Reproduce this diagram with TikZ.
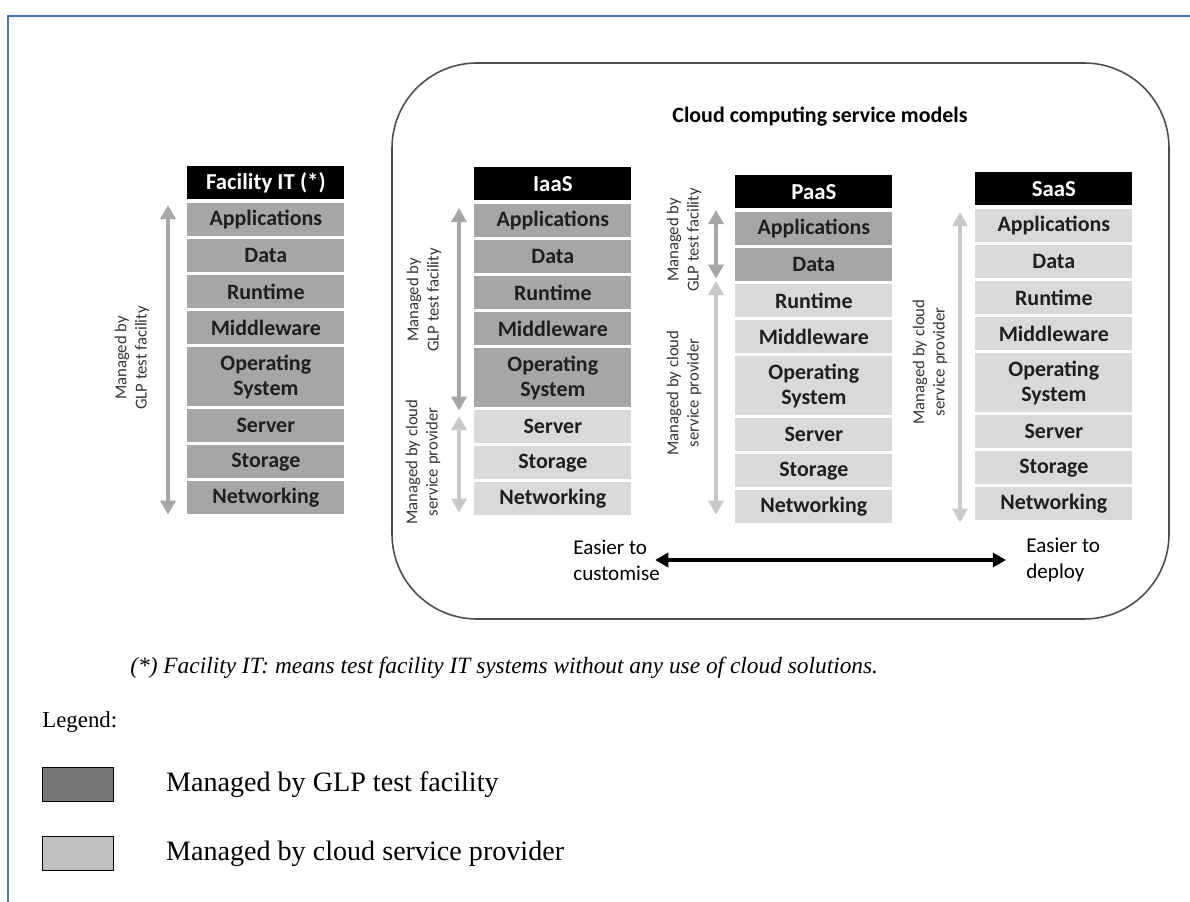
\documentclass[tikz,border=0pt]{standalone}
\usepackage{fontspec}
\setmainfont{Liberation Serif}
\newfontfamily\calibri{Carlito}
\usetikzlibrary{arrows.meta,positioning}

\definecolor{glpgray}{HTML}{A6A6A6}
\definecolor{cspgray}{HTML}{D9D9D9}
\definecolor{keydark}{HTML}{767676}
\definecolor{keylight}{HTML}{BFBFBF}
\definecolor{frameblue}{HTML}{4472C4}

\tikzset{
  layer/.style={anchor=north west, minimum width=3.14cm, minimum height=0.66cm, inner sep=0pt,
    align=center, text=black!88, font=\calibri\bfseries\fontsize{12.5}{14}\selectfont},
  stackhead/.style={layer, fill=black, text=white, font=\calibri\bfseries\fontsize{13}{14}\selectfont},
  sidelabel/.style={rotate=90, align=center, text=black!80, font=\calibri\fontsize{9.5}{11.5}\selectfont},
  glparrow/.style={draw=glpgray, line width=2.8pt, {Triangle[width=8.5pt,length=8pt]}-{Triangle[width=8.5pt,length=8pt]}},
  csparrow/.style={glparrow, draw=cspgray!92!black},
  easytext/.style={anchor=west, align=left, inner sep=0pt, font=\calibri\fontsize{12}{14.7}\selectfont},
  keybox/.style={anchor=north west, draw=black, line width=0.7pt, minimum width=1.42cm, minimum height=0.68cm},
  keytext/.style={inner sep=0pt, font=\fontsize{16}{18}\selectfont},
}

% prefix, left x, top y, number of GLP layers, header
\newcommand\layerstack[5]{%
  \node[stackhead] (#1-head) at (#2,#3) {#5};
  \foreach \nm/\lbl/\dy/\lh [count=\i] in {app/Applications/37/33, data/Data/73/33, run/Runtime/109/33,
      mid/Middleware/145/33, os/{Operating\\System}/181/59, srv/Server/243/33, sto/Storage/279/33, net/Networking/315/33}{
    \ifnum\i>#4 \def\layercol{cspgray}\else\def\layercol{glpgray}\fi
    \node[layer, fill=\layercol, minimum height=\lh*0.02cm] (#1-\nm) at (#2,#3+\dy) {\lbl};
  }%
}

\begin{document}
\begin{tikzpicture}[x=0.02cm,y=-0.02cm]
  \useasboundingbox (0,0) rectangle (1190,902);
  \draw[frameblue, line width=1.2pt] (8,902) -- (8,16) -- (1190,16);

  % cloud models frame
  \draw[black!70, line width=0.9pt, rounded corners=1.7cm] (392,63) rectangle (1169,619);
  \node[font=\calibri\bfseries\fontsize{12.5}{14}\selectfont] (cloudtitle) at (820,117) {Cloud computing service models};

  % stacks
  \layerstack{fac}{187}{166}{8}{Facility IT (*)}
  \layerstack{iaas}{474}{167}{5}{IaaS}
  \layerstack{paas}{735}{175}{2}{PaaS}
  \layerstack{saas}{975}{172}{0}{SaaS}

  % who manages what
  \draw[glparrow] ([xshift=-0.38cm,yshift=-0.04cm]fac-app.north west) -- ([xshift=-0.38cm]fac-net.south west);
  \node[sidelabel] (fac-glp) at (132,358) {Managed by\\GLP test facility};

  \draw[glparrow] ([xshift=-0.3cm,yshift=-0.08cm]iaas-app.north west) -- ([xshift=-0.3cm,yshift=-0.06cm]iaas-os.south west);
  \draw[csparrow] ([xshift=-0.3cm,yshift=-0.12cm]iaas-srv.north west) -- ([xshift=-0.3cm,yshift=0.06cm]iaas-net.south west);
  \node[sidelabel] (iaas-glp) at (424,300) {Managed by\\GLP test facility};
  \node[sidelabel] (iaas-csp) at (423,462) {Managed by cloud\\service provider};

  \draw[glparrow] ([xshift=-0.38cm,yshift=0.04cm]paas-app.north west) -- ([xshift=-0.38cm,yshift=0.06cm]paas-data.south west);
  \draw[csparrow] ([xshift=-0.38cm,yshift=0.06cm]paas-run.north west) -- ([xshift=-0.38cm,yshift=0.18cm]paas-net.south west);
  \node[sidelabel] (paas-glp) at (684,240) {Managed by\\GLP test facility};
  \node[sidelabel] (paas-csp) at (684,393) {Managed by cloud\\service provider};

  \draw[csparrow] ([xshift=-0.3cm,yshift=-0.06cm]saas-app.north west) -- ([xshift=-0.3cm,yshift=-0.04cm]saas-net.south west);
  \node[sidelabel] (saas-csp) at (930,362) {Managed by cloud\\service provider};

  % customise vs deploy
  \node[easytext] (custom) at (573,560) {Easier to\\customise};
  \node[easytext] (deploy) at (1026,560) {Easier to\\deploy};
  \draw[line width=1.9pt, {Triangle[width=8pt,length=7.5pt]}-{Triangle[width=8pt,length=7.5pt]}]
    ([xshift=-0.1cm]custom.east) -- ([xshift=-0.4cm]deploy.west);

  % footnote and legend
  \node[anchor=west, inner sep=0pt, font=\itshape\fontsize{13.3}{15}\selectfont] (footnote) at (130,668)
    {(*) Facility IT: means test facility IT systems without any use of cloud solutions.};
  \node[anchor=west, inner sep=0pt, font=\fontsize{13}{15}\selectfont] (legend) at (42,722) {Legend:};
  \node[keybox, fill=keydark] (key-glp) at (42,767) {};
  \node[keybox, fill=keylight] (key-csp) at (42,836) {};
  \node[keytext, right=1.03cm of key-glp] (key-glp-text) {Managed by GLP test facility};
  \node[keytext, right=1.03cm of key-csp] (key-csp-text) {Managed by cloud service provider};
\end{tikzpicture}
\end{document}
